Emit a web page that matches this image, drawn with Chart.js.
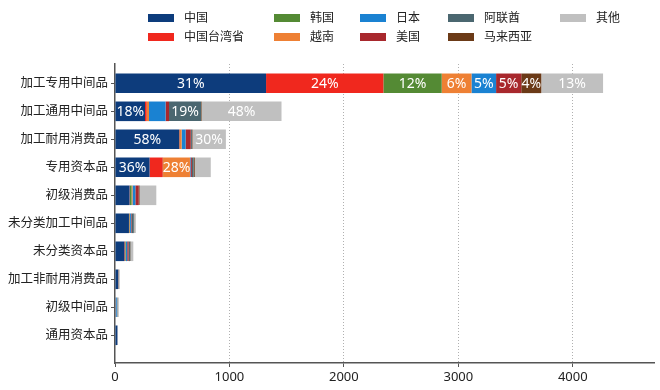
<!DOCTYPE html>
<html>
<head>
<meta charset="utf-8">
<script src="https://cdn.jsdelivr.net/npm/chart.js@4"></script>
<style>
  body { margin: 0; background: #fff; font-family: "Noto Sans", "Noto Sans CJK SC", sans-serif; }
  #wrap { position: relative; width: 660px; height: 390px; }
  #legend { position: absolute; left: 0; top: 0; width: 660px; height: 50px; }
  .item { position: absolute; font-size: 12px; line-height: 14px; color: #222; white-space: nowrap; }
  .item i { position: absolute; left: 0; top: 3px; width: 26px; height: 8px; }
  .item span { position: absolute; left: 36px; top: 0; }
</style>
</head>
<body>
<div id="wrap">
  <canvas id="chart" width="660" height="390"></canvas>
  <div id="legend"></div>
</div>
<script>
const categories = ["加工专用中间品", "加工通用中间品", "加工耐用消费品", "专用资本品", "初级消费品",
  "未分类加工中间品", "未分类资本品", "加工非耐用消费品", "初级中间品", "通用资本品"];

const seriesNames = ["中国", "中国台湾省", "韩国", "越南", "日本", "美国", "阿联酋", "马来西亚", "其他"];
const seriesColors = ["#0d3c7c", "#f0281e", "#548a34", "#ee8034", "#1a82d2", "#a8282d", "#4b6770", "#6b3a17", "#c0c0c0"];

const china    = [1320, 262, 560, 302, 127, 122, 82, 28, 5, 20];
const taiwan   = [1025, 15, 4, 115, 3, 2, 5, 1, 1, 0];
const korea    = [510, 0, 4, 3, 15, 4, 5, 1, 1, 0];
const vietnam  = [260, 20, 14, 235, 8, 3, 3, 1, 0, 0];
const japan    = [215, 145, 35, 5, 25, 8, 12, 1, 8, 1];
const usa      = [220, 30, 45, 12, 30, 5, 12, 1, 1, 1];
const uae      = [0, 280, 10, 15, 3, 20, 15, 1, 5, 0];
const malaysia = [175, 5, 5, 10, 5, 3, 3, 0, 0, 0];
const others   = [540, 698, 292, 140, 145, 15, 23, 8, 12, 4];

const seriesValues = [china, taiwan, korea, vietnam, japan, usa, uae, malaysia, others];
const xTicks = [0, 1000, 2000, 3000, 4000];

// legend in 5 columns, filled column by column
const legendCols = [148, 274, 360, 448, 560];
const legendRows = [17.5, 37];
const legend = document.getElementById("legend");
seriesNames.forEach((name, i) => {
  const el = document.createElement("div");
  el.className = "item";
  el.style.left = legendCols[Math.floor(i / 2)] + "px";
  el.style.top = (legendRows[i % 2] - 7) + "px";
  el.innerHTML = '<i style="background:' + seriesColors[i] + '"></i><span>' + name + "</span>";
  legend.appendChild(el);
});

const totals = categories.map((c, j) => seriesValues.reduce((s, arr) => s + arr[j], 0));

const shareLabels = {
  id: "shareLabels",
  afterDatasetsDraw(chart) {
    const ctx = chart.ctx;
    ctx.save();
    ctx.font = '14px "Noto Sans", sans-serif';
    ctx.fillStyle = "#fff";
    ctx.textAlign = "center";
    ctx.textBaseline = "middle";
    chart.data.datasets.forEach((ds, i) => {
      chart.getDatasetMeta(i).data.forEach((bar, j) => {
        const w = Math.abs(bar.x - bar.base);
        if (w < 18) return;
        const pct = Math.round(ds.data[j].x / totals[j] * 100);
        ctx.fillText(pct + "%", (bar.x + bar.base) / 2, bar.y + 1);
      });
    });
    ctx.restore();
  }
};

Chart.defaults.font.family = '"Noto Sans", "Noto Sans CJK SC", sans-serif';
Chart.defaults.color = "#222";

new Chart(document.getElementById("chart"), {
  type: "bar",
  data: {
    datasets: seriesNames.map((name, i) => ({
      label: name,
      data: seriesValues[i].map((v, j) => ({ x: v, y: j })),
      backgroundColor: seriesColors[i],
      borderWidth: 0,
      barPercentage: 0.7,
      categoryPercentage: 1
    }))
  },
  options: {
    indexAxis: "y",
    responsive: false,
    animation: false,
    layout: { padding: { top: 64, right: 6, left: 0, bottom: 0 } },
    plugins: { legend: { display: false }, tooltip: { enabled: false } },
    scales: {
      x: {
        type: "linear",
        stacked: true,
        min: 0,
        max: 4710,
        afterBuildTicks: s => { s.ticks = xTicks.map(v => ({ value: v })); },
        afterFit: s => { s.height = 27; },
        ticks: { font: { size: 13 }, color: "#222", padding: 2, callback: v => String(v) },
        grid: {
          color: c => (c.tick && c.tick.value === 0) ? "rgba(0,0,0,0)" : "#b0b0b0",
          lineWidth: 1,
          tickLength: 4,
          tickColor: "#555"
        },
        border: { display: true, color: "#555", width: 1.5, dash: [1, 2] }
      },
      y: {
        type: "linear",
        stacked: true,
        reverse: true,
        offset: false,
        min: -0.69,
        max: 9.99,
        afterBuildTicks: s => { s.ticks = categories.map((c, i) => ({ value: i })); },
        afterFit: s => { s.width = 115; },
        ticks: { font: { size: 12.5 }, color: "#222", padding: 3, callback: v => categories[v] },
        grid: { drawOnChartArea: false, offset: false, tickLength: 4, tickColor: "#555" },
        border: { display: true, color: "#555", width: 1.5 }
      }
    }
  },
  plugins: [shareLabels]
});
</script>
</body>
</html>
